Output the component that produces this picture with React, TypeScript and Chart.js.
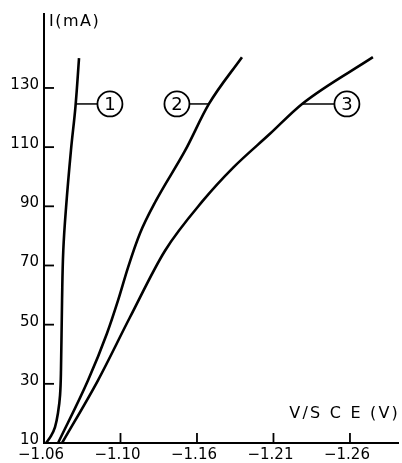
import React, { useEffect, useRef } from "react";
import { Chart, registerables } from "chart.js";
Chart.register(...registerables);

// Axis ticks
const xTickValues = [-1.06, -1.11, -1.16, -1.21, -1.26];
const xTickLabels = ["−1.06", "−1.10", "−1.16", "−1.21", "−1.26"];
const yTickValues = [10, 30, 50, 70, 90, 110, 130];

// Curve 1
const curve1V = [-1.0613, -1.0646, -1.0672, -1.0692, -1.0705, -1.0711, -1.0718, -1.0726, -1.0744, -1.0776, -1.0806, -1.0829];
const curve1I = [10, 12.4, 15.4, 20.4, 26.2, 34.6, 58.2, 75.0, 89.5, 108.8, 123.9, 140.1];
// Curve 2
const curve2V = [-1.0692, -1.0888, -1.1012, -1.1084, -1.1149, -1.1227, -1.1332, -1.1522, -1.1678, -1.1894];
const curve2I = [10, 31.2, 47.1, 58.2, 69.3, 80.8, 91.9, 108.8, 124.6, 140.4];
// Curve 3
const curve3V = [-1.0718, -1.0953, -1.1162, -1.1391, -1.1639, -1.1835, -1.2077, -1.2287, -1.275];
const curve3I = [10, 31.2, 52.5, 75.0, 91.9, 103.0, 114.5, 124.6, 140.4];

// Callouts
const calloutNames = ["1", "2", "3"];
const calloutCurveV = [-1.0806, -1.1678, -1.2287];
const calloutCircleV = [-1.1031, -1.1469, -1.258];
const calloutI = [124.6, 124.6, 124.6];

const yTitle = "I(mA)";
const xTitle = "V/S C E (V)";

const toPts = (xs: number[], ys: number[]) => xs.map((x, i) => ({ x, y: ys[i] }));

const FONT = "'DejaVu Sans', sans-serif";

const decorPlugin = {
  id: "decor",
  afterDraw(chart: any) {
    const { ctx, chartArea } = chart;
    const xs = chart.scales.x;
    const ys = chart.scales.y;
    ctx.save();
    ctx.strokeStyle = "#000";
    ctx.fillStyle = "#000";
    ctx.lineWidth = 1.8;
    // inside ticks
    ys.ticks.forEach((t: any) => {
      const py = ys.getPixelForValue(t.value);
      ctx.beginPath();
      ctx.moveTo(chartArea.left, py);
      ctx.lineTo(chartArea.left + 10, py);
      ctx.stroke();
    });
    xs.ticks.forEach((t: any) => {
      const px = xs.getPixelForValue(t.value);
      ctx.beginPath();
      ctx.moveTo(px, chartArea.bottom);
      ctx.lineTo(px, chartArea.bottom - 10);
      ctx.stroke();
    });
    // titles
    ctx.font = `16px ${FONT}`;
    (ctx as any).letterSpacing = "1.5px";
    ctx.textAlign = "left";
    ctx.textBaseline = "middle";
    ctx.fillText(yTitle, chartArea.left + 5, 22);
    (ctx as any).letterSpacing = "2.2px";
    ctx.textAlign = "right";
    ctx.fillText(xTitle, chartArea.right + 2, 414);
    (ctx as any).letterSpacing = "0px";
    // callouts
    const r = 12.5;
    calloutNames.forEach((name, i) => {
      const x0 = xs.getPixelForValue(calloutCurveV[i]);
      const cx = xs.getPixelForValue(calloutCircleV[i]);
      const cy = ys.getPixelForValue(calloutI[i]);
      const dir = cx > x0 ? 1 : -1;
      ctx.lineWidth = 1.5;
      ctx.beginPath();
      ctx.moveTo(x0, cy);
      ctx.lineTo(cx - dir * r, cy);
      ctx.stroke();
      ctx.lineWidth = 1.8;
      ctx.beginPath();
      ctx.arc(cx, cy, r, 0, Math.PI * 2);
      ctx.stroke();
      ctx.font = `18px ${FONT}`;
      ctx.textAlign = "center";
      ctx.textBaseline = "middle";
      ctx.fillText(name, cx, cy + 1);
    });
    ctx.restore();
  },
};

export default function App() {
  const ref = useRef<HTMLCanvasElement>(null);
  useEffect(() => {
    document.body.style.margin = "0";
    const canvas = ref.current!;
    const ds = (xs: number[], ys: number[], mono: boolean) => ({
      data: toPts(xs, ys),
      borderColor: "#000",
      borderWidth: 2.6,
      pointRadius: 0,
      cubicInterpolationMode: (mono ? "monotone" : "default") as any,
      tension: mono ? 0 : 0.4,
      fill: false,
    });
    const chart = new Chart(canvas, {
      type: "line",
      data: {
        datasets: [ds(curve1V, curve1I, false), ds(curve2V, curve2I, true), ds(curve3V, curve3I, true)],
      },
      options: {
        animation: false,
        responsive: false,
        layout: { padding: { top: 13, right: 4, left: 0, bottom: 0 } },
        plugins: { legend: { display: false }, tooltip: { enabled: false } },
        scales: {
          x: {
            type: "linear",
            reverse: true,
            min: -1.2914,
            max: -1.06,
            afterBuildTicks: (s: any) => {
              s.ticks = xTickValues.map((v) => ({ value: v }));
            },
            afterFit: (s: any) => {
              s.height = 20;
            },
            grid: { display: false, drawTicks: false },
            border: { display: true, color: "#000", width: 2 },
            ticks: {
              callback: (_v: any, i: number) => xTickLabels[i],
              color: "#000",
              font: { family: FONT, size: 15 },
              padding: 3,
              labelOffset: -3,
              maxRotation: 0,
              autoSkip: false,
            },
          },
          y: {
            type: "linear",
            min: 10,
            max: 155,
            afterBuildTicks: (s: any) => {
              s.ticks = yTickValues.map((v) => ({ value: v }));
            },
            afterFit: (s: any) => {
              s.width = 44;
            },
            grid: { display: false, drawTicks: false },
            border: { display: true, color: "#000", width: 2 },
            ticks: {
              color: "#000",
              font: { family: FONT, size: 15 },
              padding: 5,
              labelOffset: -3,
              autoSkip: false,
            },
          },
        },
      },
      plugins: [decorPlugin],
    });
    return () => chart.destroy();
  }, []);
  return (
    <div style={{ width: 402, height: 463 }}>
      <canvas ref={ref} width={402} height={463} style={{ display: "block" }} />
    </div>
  );
}
